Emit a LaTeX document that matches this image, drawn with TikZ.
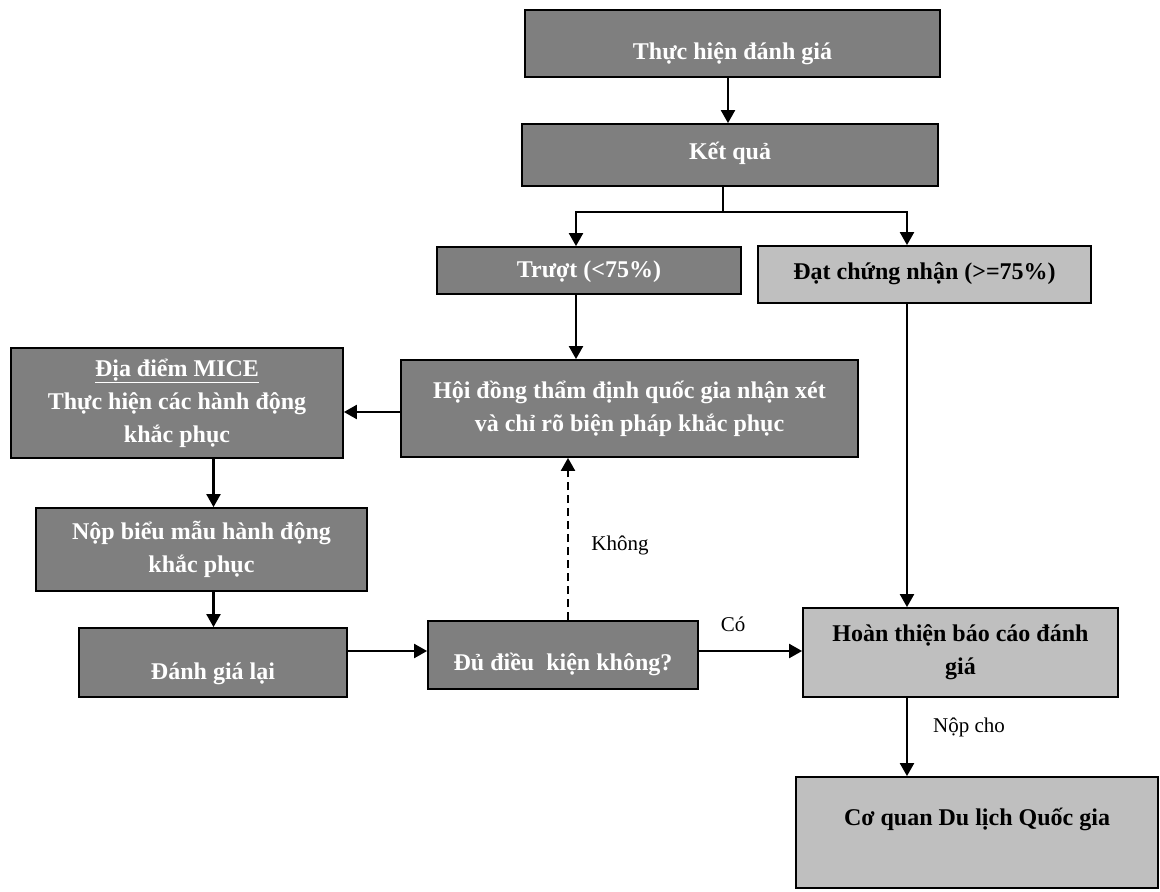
\documentclass[tikz,border=0pt]{standalone}
\usepackage{fontspec}
\setmainfont{Liberation Serif}
\usetikzlibrary{arrows.meta,calc}
\definecolor{dgray}{HTML}{7F7F7F}
\definecolor{lgray}{HTML}{BFBFBF}
\tikzset{
  dbox/.style={draw=black, line width=1.8pt, fill=dgray, text=white,
    font=\bfseries\fontsize{24}{33}\selectfont, align=center, inner sep=0pt},
  lbox/.style={dbox, fill=lgray, text=black},
  arr/.style={line width=2.2pt, -{Triangle[length=13pt,width=14pt]}},
  plain/.style={line width=2.2pt},
  lab/.style={font=\fontsize{21}{25}\selectfont, inner sep=0pt}
}
\begin{document}
\begin{tikzpicture}[x=1pt,y=-1pt]
\useasboundingbox (0,0) rectangle (1160,892);
% single-line boxes (anchor base at baseline)
\node[dbox, anchor=base, minimum width=415pt, text height=49pt, text depth=18pt] (t1) at (732.5,59) {Thực hiện đánh giá};
\node[dbox, anchor=base, minimum width=416pt, text height=35pt, text depth=27pt] (kq) at (730,159) {Kết quả};
\node[dbox, anchor=base, minimum width=304pt, text height=30pt, text depth=17pt] (truot) at (589,277) {Trượt (<75\%)};
\node[lbox, anchor=base, minimum width=333pt, text height=33pt, text depth=24pt] (dat) at (924.5,279) {Đạt chứng nhận (>=75\%)};
\node[dbox, anchor=base, minimum width=268pt, text height=51pt, text depth=18pt] (dgl) at (213,679) {Đánh giá lại};
\node[dbox, anchor=base, minimum width=270pt, text height=49pt, text depth=19pt] (du) at (563,670) {Đủ điều\ \ kiện không?};
\node[lbox, anchor=base, minimum width=362pt, text height=48pt, text depth=63pt] (cq) at (977,825) {Cơ quan Du lịch Quốc gia};
% multi-line boxes
\node[dbox, minimum width=457pt, minimum height=97pt] (hd) at (629.5,408.5) {Hội đồng thẩm định quốc gia nhận xét\\và chỉ rõ biện pháp khắc phục};
\node[dbox, minimum width=332pt, minimum height=110pt] (mice) at (177,403) {\underline{Địa điểm MICE}\\Thực hiện các hành động\\khắc phục};
\node[dbox, minimum width=331pt, minimum height=83pt] (nop) at (201.5,549.5) {Nộp biểu mẫu hành động\\khắc phục};
\node[lbox, minimum width=315pt, minimum height=89pt] (ht) at (960.5,652.5) {Hoàn thiện báo cáo đánh\\giá};
% helper coordinates
\coordinate (xa) at (728,0);
\coordinate (br) at (723,212);
\coordinate (bl) at (576,212);
\coordinate (brr) at (907,212);
\coordinate (ym) at (0,412);
\coordinate (xm) at (213.5,0);
\coordinate (yd) at (0,651);
\coordinate (xd) at (568,0);
% connectors
\draw[arr] (t1.south -| xa) -- (xa |- kq.north);
\draw[plain] (kq.south -| br) -- (br);
\draw[arr] (br) -- (bl) -- (bl |- truot.north);
\draw[arr] (br) -- (brr) -- (brr |- dat.north);
\draw[arr] (truot.south -| bl) -- (bl |- hd.north);
\draw[arr] (hd.west |- ym) -- (mice.east |- ym);
\draw[arr] (mice.south -| xm) -- (xm |- nop.north);
\draw[arr] (nop.south -| xm) -- (xm |- dgl.north);
\draw[arr] (dgl.east |- yd) -- (du.west |- yd);
\draw[arr] (du.east |- yd) -- (ht.west |- yd);
\draw[arr, dash pattern=on 8pt off 5pt] (du.north -| xd) -- (xd |- hd.south);
\draw[arr] (dat.south -| brr) -- (brr |- ht.north);
\draw[arr] (ht.south -| brr) -- (brr |- cq.north);
% labels
\node[lab] (lkhong) at (620,545) {Không};
\node[lab] (lco) at (733,624) {Có};
\node[lab] (lnop) at (969,727) {Nộp cho};
\end{tikzpicture}
\end{document}
